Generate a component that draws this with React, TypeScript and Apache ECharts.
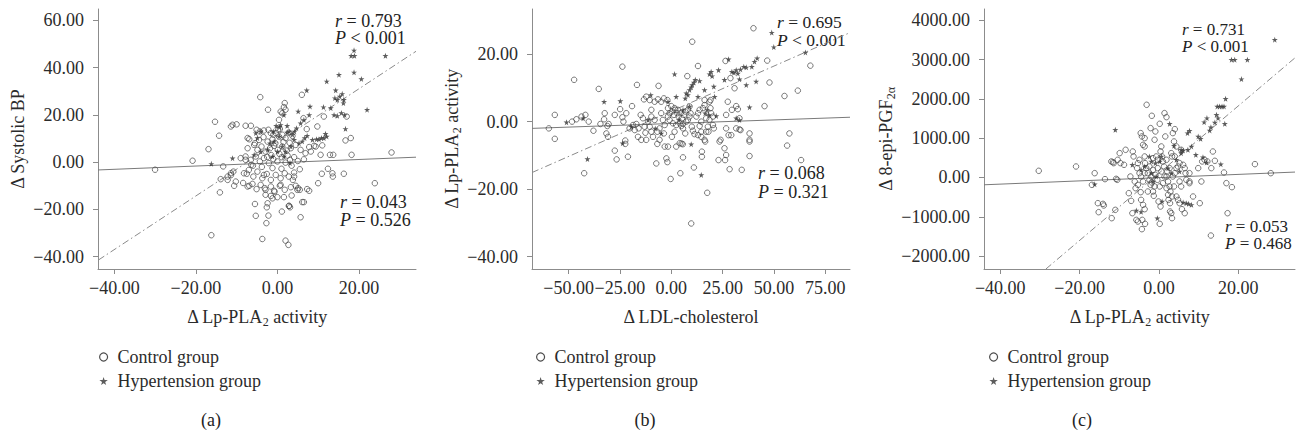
import React, { useEffect, useRef } from "react";
import * as echarts from "echarts";

const FONT = "'Liberation Serif', 'DejaVu Serif', serif";
const STAR = "path://M50,0 L61,35 L98,35 L68,57 L79,91 L50,70 L21,91 L32,57 L2,35 L39,35 Z";

// ---------- tick labels ----------
const ticksAX = [-40, -20, 0, 20];
const ticksAY = [-40, -20, 0, 20, 40, 60];
const ticksBX = [-50, -25, 0, 25, 50, 75];
const ticksBY = [-40, -20, 0, 20];
const ticksCX = [-40, -20, 0, 20];
const ticksCY = [-2000, -1000, 0, 1000, 2000, 3000, 4000];

// ---------- panel (a): Δ Lp-PLA2 activity vs Δ Systolic BP ----------
const controlA = [
  [-30.0, -3.2], [-20.8, 0.6], [-16.9, 5.5], [-16.2, -30.9], [-15.3, 17.1], [-14.3, 11.2], [-14.1, -12.8],
  [-13.9, -7.2], [-13.3, -1.8], [-11.4, 15.1], [-11.0, 15.8], [-10.0, 16.0], [-10.8, -4.0], [-11.4, -5.5],
  [-10.2, -8.2], [-10.6, -10.0], [-12.2, -6.1], [-8.4, -8.8], [-7.8, 15.4], [-6.5, 15.4], [-7.3, 10.2],
  [-6.9, 9.7], [-7.8, 2.4], [-7.5, -4.9], [-6.9, -10.0], [-6.4, -1.1], [-5.5, 8.0], [-5.5, -17.7],
  [-5.3, -22.7], [-4.2, 27.5], [-3.7, -32.5], [-3.3, -5.4], [-3.1, -11.0], [-2.9, -13.8], [-2.4, -17.4],
  [-2.3, 22.2], [-2.6, -19.1], [-2.7, -25.8], [-2.2, -22.6], [-1.6, -14.3], [-0.8, -12.1], [0, -14.8],
  [0.4, 17.9], [0.8, -9.6], [1.1, -20.9], [1.6, 23.3], [1.8, 25.0], [2.0, 22.2], [1.6, -14.8], [2.0, -33.2],
  [2.7, -35.0], [2.9, -18.5], [3.1, -19.1], [3.5, -14.1], [3.8, -7.5], [4.1, -6.1], [4.5, -10.0], [5.1, -11.0],
  [5.5, -11.7], [5.7, -23.3], [6.0, 28.5], [6.1, -16.9], [6.5, -16.9], [6.4, 18.6], [7.2, 14.0], [7.8, -12.1],
  [7.8, 6.4], [9.0, 6.9], [9.8, 15.1], [10.0, -8.9], [10.6, 3.1], [10.9, -4.9], [11.0, 7.1], [11.4, 19.3],
  [12.4, -2.8], [12.9, 3.1], [13.7, 3.1], [13.5, -4.7], [13.6, -6.1], [16.3, -4.9], [16.7, 9.2], [17.0, 19.3],
  [18.0, 10.2], [18.2, 3.1], [23.9, -8.9], [28.0, 4.1],
  [0.8, 21.4], [1.2, 20.7], [0.2, 13.7], [0.6, 14.0], [-5.1, 13.7], [-4.3, 13.0], [-3.3, 13.4], [-2.2, 13.7],
  [-1.6, 12.3], [-1.0, 11.6], [-4.5, 9.4], [-3.4, 10.6], [-2.4, 8.7], [-1.2, 9.7], [-0.4, 12.3], [0.4, 10.8],
  [1.2, 11.6], [2.0, 10.2], [2.8, 12.5], [3.7, 11.1], [-7.3, 5.9], [-5.7, 7.3], [-4.9, 5.2], [-3.9, 6.6],
  [-2.9, 4.5], [-1.8, 5.9], [-0.8, 6.9], [0.1, 5.2], [1.2, 6.6], [2.3, 4.9], [3.3, 5.9], [4.5, 7.3], [5.7, 5.2],
  [6.9, 3.8], [-9.0, 1.7], [-7.8, 1.0], [-6.5, 1.0], [-5.3, 2.4], [-4.3, 0.3], [-3.3, 1.7], [-2.1, -0.4],
  [-1.0, 1.3], [0, 0.3], [1.1, 2.1], [2.0, -0.2], [3.1, 1.0], [4.1, 2.1], [8.2, 4.5], [9.4, 6.6], [-11.4, -4.7],
  [-12.2, -7.5], [-8.2, -4.7], [-7.0, -3.3], [-5.9, -6.1], [-4.9, -4.0], [-3.7, -6.8], [-2.6, -5.0],
  [-1.6, -7.5], [-0.4, -5.4], [0.8, -6.8], [1.8, -4.7], [2.8, -6.1], [4.1, -4.4], [-7.3, -10.3], [-6.1, -9.2],
  [-5.1, -11.4], [-4.1, -9.6], [-2.9, -11.7], [-1.6, -10.3], [-0.7, -12.5], [0.6, -10.0], [1.8, -11.7],
  [3.3, -10.6], [4.9, -11.7], [7.3, -11.4], [-1.2, -15.3], [2.8, -18.5], [-1.5, 3.0], [0.5, 3.5], [2.5, 2.8],
  [-2.5, 2.2], [1.5, 8.5], [-0.5, 8.0], [3.0, 8.2], [-3.8, -2.0], [-1.2, -2.5], [1.0, -2.8], [3.5, -1.5],
  [5.0, 0.5], [-6.0, -1.5], [5.5, -3.0], [6.5, 1.2],
];
const hyperA = [
  [-16.2, -0.7], [-11.0, 1.7], [-5.7, 3.1], [-5.3, 12.3], [-4.1, 13.0], [-0.3, 15.4], [0.5, 14.8], [1.6, 20.0],
  [2.4, 15.4], [2.9, 13.0], [3.7, 11.6], [4.1, 9.5], [4.7, 14.4], [5.1, 21.5], [5.7, 16.5], [6.5, 17.9],
  [7.2, 30.4], [8.0, 23.6], [7.8, 20.0], [8.6, 9.5], [9.6, 9.7], [10.2, 9.7], [10.8, 10.2], [11.4, 10.2],
  [12.1, 10.9], [11.8, 12.0], [11.3, 23.3], [12.1, 34.2], [13.1, 22.9], [13.9, 20.0], [14.3, 30.4], [14.1, 27.1],
  [14.7, 26.4], [15.1, 37.0], [15.3, 27.8], [15.9, 28.9], [16.3, 26.4], [16.2, 25.0], [14.7, 19.6], [15.7, 20.8],
  [16.5, 20.0], [16.7, 14.1], [18.1, 45.0], [18.9, 45.0], [18.8, 47.3], [18.8, 38.0], [20.6, 35.2], [22.0, 22.2],
  [26.5, 45.0], [-0.8, 8.8], [0.4, 10.9], [1.2, 6.6], [2.0, 4.5], [3.3, 6.6], [-1.2, 2.4], [0, 4.5], [-2.4, 5.2],
  [1.6, 2.4], [3.1, -0.4], [2.4, 12.6], [4.2, 13.0], [5.3, 8.0], [6.1, 8.8], [6.7, 10.2], [7.3, 11.2],
  [-4.1, 4.5], [-4.9, 10.2], [-1.8, 8.0], [-1.0, 13.0], [0.8, 15.8],
];
const fitCtrlA = [[-44, -3.3], [34, 2.1]];
const fitHyperA = [[-43.9, -41.4], [34, 46.9]];

// ---------- panel (b): Δ LDL-cholesterol vs Δ Lp-PLA2 activity ----------
const controlB = [
  [-59.6, -2.0], [-56.7, 2.0], [-56.7, -5.1], [-47.3, 12.4], [-48.3, 0], [-46.2, 0.7], [-43.7, 1.5], [-41.8, 2.0],
  [-42.4, -15.3], [-40.2, 0], [-37.9, -2.7], [-35.3, 9.7], [-34.5, -0.7], [-32.4, 2.5], [-32.7, 0.7],
  [-31.6, -3.5], [-31.1, -1.3], [-30.5, -0.7], [-30.8, -4.5], [-27.5, 2.0], [-27.5, -8.6], [-26.6, -11.2],
  [-24.9, 3.7], [-23.8, 16.3], [-23.8, 1.3], [-23.3, 0], [-22.4, -5.6], [-22.4, -6.6], [-21.9, 2.5],
  [-21.1, -10.4], [-19.1, 4.6], [-20.3, -2.0], [-18.6, -1.0], [-17.8, -2.5], [-17.0, -0.7], [-16.2, -4.5],
  [-15.9, -2.0], [-16.7, 10.9], [-14.9, 2.0], [-13.8, 1.0], [-13.0, -1.5], [-12.6, -3.3], [-12.2, -5.4],
  [-11.3, 0], [-10.5, -1.5], [-9.7, -3.0], [-8.9, -4.5], [-14.6, -5.4], [-13.3, 6.6], [-12.2, 7.4],
  [-10.5, 6.4], [-9.7, 3.5], [-8.1, 5.9], [-9.7, 1.5], [-8.1, 0.5], [-7.3, -12.4], [-6.2, 10.6], [-6.5, 6.6],
  [-4.9, 5.9], [-3.6, 6.9], [-1.9, 6.4], [-6.8, -6.6], [-5.7, -5.4], [-3.2, -7.4], [-1.6, -7.4], [-2.4, -10.9],
  [-1.9, -12.0], [-0.3, -17.0], [0.3, -4.5], [1.6, -3.0], [2.4, -7.4], [4.1, -6.4], [4.9, -1.3], [5.7, -2.0],
  [6.8, -3.5], [4.4, -15.3], [5.7, -10.6], [5.0, -6.5], [5.6, -6.7], [7.8, 13.5], [10.0, -1.5], [10.5, -2.7],
  [11.3, -3.7], [13.0, -4.0], [13.8, -1.3], [14.6, -3.0], [16.2, -5.4], [17.0, -3.0], [17.8, -1.5], [10.2, 23.7],
  [11.0, -13.6], [13.0, 16.5], [14.9, -10.4], [14.9, -8.9], [16.5, -5.9], [17.5, -21.1], [9.7, -30.2],
  [14.6, -4.5], [18.6, 5.9], [19.1, 6.4], [19.4, 2.5], [20.3, 1.5], [20.7, -2.0], [18.1, -3.0], [23.0, -11.4],
  [24.0, -5.4], [23.5, -5.9], [25.9, -7.9], [26.2, -11.4], [26.7, -9.9], [26.7, 2.0], [27.5, 5.9], [26.7, -2.0],
  [27.9, -4.0], [29.2, -4.0], [28.4, -14.1], [28.8, 12.9], [26.4, 18.0], [29.5, 3.5], [30.8, 9.9], [31.6, 4.6],
  [32.4, 3.7], [31.6, -2.0], [33.2, -2.3], [33.2, 1.0], [33.7, -2.5], [34.3, -14.3], [38.1, -3.5], [38.1, -5.4],
  [38.1, -5.9], [38.1, -10.2], [40.0, 27.7], [45.4, 4.6], [46.7, 18.1], [47.8, 11.6], [55.1, 7.6], [56.4, -7.1],
  [57.5, -3.5], [61.6, 9.2], [63.2, -11.4], [67.7, 16.6],
  [-1.6, 1.5], [-0.8, 2.5], [0.3, 3.0], [1.3, 2.0], [1.9, 3.5], [2.9, 2.5], [3.6, 1.5], [4.5, 2.5], [5.2, 1.0],
  [6.2, 2.0], [6.8, 3.0], [7.3, 0], [8.1, 0.5], [8.9, 1.5], [9.4, 2.5], [-0.8, 0.5], [0.8, -0.5], [2.4, -1.0],
  [4.1, -0.5], [5.7, -0.7], [-1.6, 4.0], [0, 4.6], [1.6, 4.0], [3.2, 3.5], [8.1, 3.5], [8.9, 4.5], [-4.9, 2.5],
  [-4.1, 0.5], [-3.2, -1.0], [-5.7, -2.0], [-6.8, -3.0], [-3.6, -3.5], [12.2, 1.5], [13.0, 2.5], [13.8, 3.5],
  [15.4, 4.0], [16.2, 4.9], [17.0, 1.0], [18.6, 0.5], [20.3, -1.0], [14.6, 0], [16.2, 6.4], [19.1, 4.0],
];
const hyperB = [
  [-51.0, -0.2], [-42.9, 1.0], [-40.8, -11.1], [-32.7, 5.9], [-24.8, 6.1], [-23.7, -6.4], [-19.4, -1.5],
  [-11.3, 0.5], [-10.0, 7.9], [-7.8, -2.0], [-4.9, -3.5], [-1.6, 5.9], [1.6, 14.1], [2.4, 7.4], [3.7, 0.5],
  [5.7, 3.5], [6.8, 6.9], [7.3, 8.4], [8.1, 7.9], [8.9, 9.4], [9.7, 10.2], [10.2, 10.9], [11.0, 11.6],
  [11.7, 12.4], [8.9, 4.5], [9.7, -6.7], [13.8, 12.1], [14.6, -15.8], [16.5, 2.5], [17.5, 3.5], [18.6, 14.1],
  [19.4, 14.8], [19.9, 13.5], [20.7, 10.4], [21.1, 7.4], [21.9, 1.7], [23.0, 15.3], [25.9, 12.4], [27.9, 18.5],
  [29.5, 14.8], [30.5, 14.5], [31.6, 15.3], [32.4, 14.3], [33.2, 12.6], [33.7, 15.5], [35.3, 16.3], [36.5, 16.1],
  [36.5, 10.9], [38.1, 4.3], [39.2, 16.3], [40.5, 17.8], [41.8, 18.8], [41.3, 11.9], [48.9, 26.4], [49.9, 22.1],
  [65.3, 20.5], [13.0, 7.4], [16.2, 9.4], [18.3, 2.0], [31.6, 1.0], [33.2, 0.5],
];
const fitCtrlB = [[-67.8, -2.0], [87, 1.3]];
const fitHyperB = [[-67.8, -15.1], [87, 26.4]];

// ---------- panel (c): Δ Lp-PLA2 activity vs Δ 8-epi-PGF2α ----------
const controlC = [
  [-30.3, 170], [-20.9, 280], [-16.2, 110], [-16.9, -187], [-15.4, -654], [-15.2, -883], [-14.1, -671],
  [-13.9, -713], [-13.6, -42], [-12.0, 408], [-11.6, 391], [-11.4, 365], [-11.9, -1036], [-11.0, -824],
  [-10.8, -34], [-10.5, -59], [-10.4, 450], [-9.9, 620], [-9.7, 365], [-8.8, 323], [-8.4, 705], [-7.6, -399],
  [-7.2, 25], [-7.0, -595], [-6.7, -909], [-6.6, 662], [-6.4, 535], [-6.1, -102], [-5.9, -272], [-5.5, 238],
  [-5.3, 365], [-4.9, 450], [-5.7, -1079], [-5.3, -1121], [-4.9, 110], [-4.5, 25], [-4.6, -374], [-4.6, 1130],
  [-4.3, 1045], [-4.5, -569], [-4.0, -696], [-3.6, -807], [-4.3, -1316], [-4.2, -1079], [-4.0, 832], [-3.6, 790],
  [-3.6, 1002], [-3.5, 365], [-3.2, 238], [-3.5, -1180], [-3.1, 1851], [-2.8, 110], [-2.4, -59], [-2.1, -187],
  [-1.8, -127], [-2.1, 1257], [-1.8, 1571], [-1.5, -357], [-1.3, -467], [-1.1, 960], [-0.9, 1172], [-0.7, 535],
  [-0.3, 238], [0.2, 1367], [-0.1, -611], [0.4, -739], [0.2, -1180], [0.4, 662], [0.8, 535], [1.0, 408],
  [1.3, 280], [1.4, 1639], [1.9, 1537], [1.6, 1045], [1.9, 25], [2.3, -102], [2.7, -229], [2.9, -357],
  [2.4, -569], [2.8, -654], [3.1, -909], [2.8, -866], [3.1, 620], [3.3, 535], [3.3, -1036], [3.5, 1130],
  [4.0, 1231], [3.8, 917], [4.4, 790], [4.0, 110], [4.4, 238], [4.8, 280], [5.2, 365], [5.2, -102], [5.6, -229],
  [4.4, -484], [4.8, -569], [5.2, -654], [5.6, 705], [6.1, 323], [6.5, 238], [6.7, 110], [6.9, -59], [5.8, -807],
  [6.5, -909], [7.7, 110], [7.7, -102], [7.7, -144], [10.3, -654], [8.6, -484], [9.9, 238], [10.7, -102],
  [10.9, 408], [11.5, 450], [12.2, 408], [13.2, 238], [13.6, 662], [14.1, 425], [13.1, -1478], [16.4, 127],
  [17.0, -144], [17.3, -909], [18.4, -246], [24.2, 340], [28.2, 110],
  [-1.5, 195], [-0.9, 68], [-0.4, -59], [0.6, 153], [1.4, 25], [2.1, 153], [2.7, 238], [3.5, 25], [3.8, -229],
  [1.0, -144], [0.2, -229], [-1.1, -229], [-1.9, 25], [-2.4, 280], [-3.6, 110], [-4.0, -102], [-5.3, -187],
  [-2.8, -357], [1.9, -272], [2.3, -442], [3.3, -484], [-1.5, 492], [-0.3, 450], [0.6, 790], [1.9, 450],
  [4.0, 535], [-3.6, 535],
];
const hyperC = [
  [-16.2, -170], [-11.0, 1214], [-6.7, 323], [-5.7, -841], [-4.5, -875], [-2.4, 535], [-1.9, 110], [-1.5, -102],
  [-0.7, 25], [0.2, 408], [-0.4, -1036], [0.8, -611], [2.7, 1367], [3.8, 807], [4.4, 450], [5.6, 705], [5.2, 153],
  [5.6, 620], [6.1, 688], [6.1, -637], [6.9, -654], [7.5, -671], [8.2, -696], [7.2, 1130], [7.7, 1189], [7.3, 705],
  [8.2, 790], [9.3, 578], [9.9, 1045], [10.5, 985], [11.1, 518], [12.0, 382], [11.4, 1410], [12.1, 1512],
  [12.8, 1197], [13.1, 1282], [14.1, 1401], [14.5, 1597], [14.9, 1512], [14.7, 1809], [15.3, 1809], [15.9, 1809],
  [15.6, 340], [16.4, 1809], [16.8, 2004], [16.6, 1367], [18.3, 2998], [19.1, 2998], [20.8, 2505], [22.3, 2998],
  [29.2, 3508], [-3.6, 280], [-0.9, 365], [0.6, 535], [2.3, 238], [3.1, 110], [-4.5, 195], [-1.9, 408],
];
const fitCtrlC = [[-44.1, -186], [34.3, 138]];
const fitHyperC = [[-28.5, -2330], [34.3, 3046]];

const fmt = (v: number) => (v < 0 ? "\u2212" + Math.abs(v).toFixed(2) : v.toFixed(2));

const richName = {
  n: { fontFamily: FONT, fontSize: 18, color: "#2b2b2b", lineHeight: 22 },
  sub: { fontFamily: FONT, fontSize: 12, color: "#2b2b2b", lineHeight: 12, verticalAlign: "bottom" },
};

function xAxis(gridIndex: number, min: number, max: number, ticks: number[], name: string) {
  return {
    type: "value", gridIndex, min, max,
    name, nameLocation: "middle", nameGap: 37,
    nameTextStyle: { fontFamily: FONT, fontSize: 18, color: "#2b2b2b", lineHeight: 22, rich: richName },
    axisLine: { show: true, onZero: false, lineStyle: { color: "#8c8c8c", width: 1 } },
    axisTick: { show: true, inside: false, length: 5, customValues: ticks, lineStyle: { color: "#8c8c8c" } },
    axisLabel: { customValues: ticks, formatter: fmt, margin: 10, fontFamily: FONT, fontSize: 18, color: "#2b2b2b" },
    splitLine: { show: false },
  };
}
function yAxis(gridIndex: number, min: number, max: number, ticks: number[], name: string, gap: number) {
  return {
    type: "value", gridIndex, min, max,
    name, nameLocation: "middle", nameGap: gap, nameRotate: 90,
    nameTextStyle: { fontFamily: FONT, fontSize: 18, color: "#2b2b2b", lineHeight: 22, rich: richName },
    axisLine: { show: true, onZero: false, lineStyle: { color: "#8c8c8c", width: 1 } },
    axisTick: { show: true, inside: false, length: 5, customValues: ticks, lineStyle: { color: "#8c8c8c" } },
    axisLabel: { customValues: ticks, formatter: fmt, margin: 14, fontFamily: FONT, fontSize: 18, color: "#2b2b2b" },
    splitLine: { show: false },
  };
}

function panelSeries(idx: number, ctrl: number[][], hyper: number[][], fc: number[][], fh: number[][]) {
  return [
    {
      type: "line", xAxisIndex: idx, yAxisIndex: idx, data: fc, symbol: "none", silent: true, z: 1,
      lineStyle: { color: "#7a7a7a", width: 1 },
    },
    {
      type: "line", xAxisIndex: idx, yAxisIndex: idx, data: fh, symbol: "none", silent: true, z: 1,
      lineStyle: { color: "#8a8a8a", width: 1, type: [7, 3, 1.5, 3] },
    },
    {
      name: "Control group", type: "scatter", xAxisIndex: idx, yAxisIndex: idx, data: ctrl, z: 3,
      symbol: "circle", symbolSize: 5.5,
      itemStyle: { color: "rgba(255,255,255,0)", borderColor: "#444444", borderWidth: 0.9 },
    },
    {
      name: "Hypertension group", type: "scatter", xAxisIndex: idx, yAxisIndex: idx, data: hyper, z: 4,
      symbol: STAR, symbolSize: 6,
      itemStyle: { color: "#333333" },
    },
  ];
}

function legend(left: number) {
  return {
    left, top: 343, orient: "vertical", itemGap: 6, itemWidth: 18, itemHeight: 8,
    data: [
      { name: "Control group", itemStyle: { color: "rgba(255,255,255,0)", borderColor: "#222", borderWidth: 1.2 } },
      { name: "Hypertension group", itemStyle: { color: "#333" } },
    ],
    textStyle: { fontFamily: FONT, fontSize: 18, color: "#2b2b2b" },
    selectedMode: false,
  };
}

const ann = (x: number, y: number, text: string, align: string, lh: number, fs = 18) => ({
  type: "text", x, y, silent: true,
  style: {
    text, align, verticalAlign: "middle", fontFamily: FONT, fontSize: fs, fill: "#222", lineHeight: lh,
    rich: { i: { fontStyle: "italic", fontFamily: FONT, fontSize: fs, fill: "#222", lineHeight: lh } },
  },
});

export default function App() {
  const ref = useRef<HTMLDivElement>(null);
  useEffect(() => {
    if (!ref.current) return;
    const chart = echarts.init(ref.current, undefined, { renderer: "svg" });
    chart.setOption({
      animation: false,
      backgroundColor: "#ffffff",
      grid: [
        { left: 98, top: 9, width: 318, height: 260 },
        { left: 532, top: 9, width: 318, height: 260 },
        { left: 984, top: 9, width: 311, height: 260 },
      ],
      xAxis: [
        xAxis(0, -44, 34, ticksAX, "{n|Δ Lp-PLA}{sub|2}{n| activity}"),
        xAxis(1, -67.8, 87, ticksBX, "{n|Δ LDL-cholesterol}"),
        xAxis(2, -44.1, 34.3, ticksCX, "{n|Δ Lp-PLA}{sub|2}{n| activity}"),
      ],
      yAxis: [
        yAxis(0, -45.2, 64.8, ticksAY, "{n|Δ Systolic BP}", 66),
        yAxis(1, -43.7, 33.4, ticksBY, "{n|Δ Lp-PLA}{sub|2}{n| activity}", 66),
        yAxis(2, -2330, 4290, ticksCY, "{n|Δ 8-epi-PGF}{sub|2α}", 84),
      ],
      legend: [legend(94), legend(531), legend(984)],
      series: [
        ...panelSeries(0, controlA, hyperA, fitCtrlA, fitHyperA),
        ...panelSeries(1, controlB, hyperB, fitCtrlB, fitHyperB),
        ...panelSeries(2, controlC, hyperC, fitCtrlC, fitHyperC),
      ],
      graphic: [
        ann(335, 29.5, "{i|r} = 0.793\n{i|P} < 0.001", "left", 17.5),
        ann(340, 211, "{i|r} = 0.043\n{i|P} = 0.526", "left", 18),
        ann(777, 31, "{i|r} = 0.695\n{i|P} < 0.001", "left", 17.5, 17.5),
        ann(758, 182.5, "{i|r} = 0.068\n{i|P} = 0.321", "left", 19),
        ann(1182, 37.5, "{i|r} = 0.731\n{i|P} < 0.001", "left", 17, 17),
        ann(1225, 234.5, "{i|r} = 0.053\n{i|P} = 0.468", "left", 17, 17),
        ann(211, 420, "(a)", "center", 20),
        ann(645, 420, "(b)", "center", 20),
        ann(1082, 420, "(c)", "center", 20),
      ],
    });
    return () => chart.dispose();
  }, []);
  return (
    <div
      ref={ref}
      style={{ position: "absolute", left: 0, top: 0, width: 1302, height: 434, background: "#fff" }}
    />
  );
}
